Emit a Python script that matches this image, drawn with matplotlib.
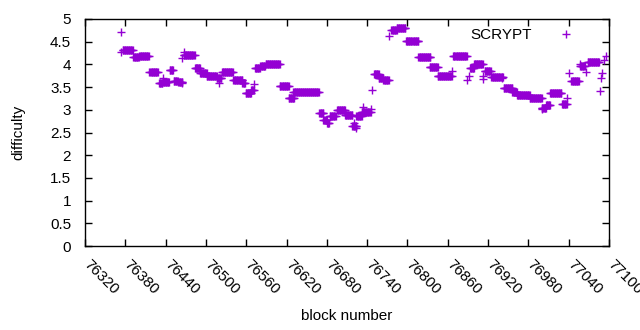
import numpy as np
import matplotlib
matplotlib.use("Agg")
import matplotlib.pyplot as plt
import matplotlib.transforms as mtransforms

plt.rcParams['font.family'] = ['Liberation Sans', 'DejaVu Sans']

# Runs of consecutive blocks sharing (about) the same difficulty
seg_start = [76376, 76392, 76401, 76416, 76430, 76436, 76446, 76452, 76459, 76467,
             76484, 76491, 76501, 76516, 76524, 76541, 76554, 76559, 76567, 76573,
             76581, 76589, 76610, 76623, 76630, 76669, 76675, 76680, 76684, 76695,
             76707, 76718, 76724, 76732, 76750, 76757, 76764, 76776, 76784, 76798,
             76816, 76833, 76845, 76868, 76893, 76899, 76915, 76925, 76943, 76956,
             76963, 76982, 77000, 77006, 77012, 77030, 77044, 77057, 77068]
seg_end = [76391, 76400, 76415, 76428, 76435, 76445, 76451, 76458, 76465, 76483,
           76491, 76501, 76516, 76523, 76540, 76554, 76558, 76567, 76571, 76580,
           76588, 76610, 76623, 76631, 76668, 76675, 76680, 76683, 76693, 76707,
           76718, 76724, 76732, 76745, 76757, 76764, 76772, 76784, 76797, 76816,
           76834, 76845, 76866, 76888, 76899, 76912, 76924, 76942, 76956, 76963,
           76982, 77000, 77006, 77012, 77029, 77037, 77055, 77064, 77085]
seg_diff = [4.32, 4.16, 4.19, 3.83, 3.58, 3.61, 3.87, 3.64, 3.62, 4.20,
            3.91, 3.81, 3.75, 3.69, 3.83, 3.65, 3.58, 3.37, 3.43, 3.92,
            3.97, 4.01, 3.52, 3.25, 3.39, 2.93, 2.78, 2.71, 2.87, 3.00,
            2.89, 2.65, 2.86, 2.96, 3.78, 3.71, 3.65, 4.75, 4.80, 4.52,
            4.16, 3.94, 3.74, 4.18, 3.93, 4.00, 3.85, 3.72, 3.47, 3.40,
            3.33, 3.27, 3.03, 3.10, 3.36, 3.12, 3.63, 3.97, 4.05]

# Isolated blocks
pt_block = [76374, 76373, 76436, 76464, 76467, 76465, 76485, 76519, 76571, 76721,
            76724, 76734, 76745, 76747, 76773, 76866, 76888, 76891, 76912, 76912,
            76940, 77001, 77037, 77040, 77057, 77066, 77086, 77088, 77090, 77092,
            77096]
pt_diff = [4.71, 4.28, 3.71, 3.59, 4.28, 4.13, 3.93, 3.60, 3.56, 2.70,
           2.59, 3.06, 3.02, 3.43, 4.62, 3.85, 3.65, 3.75, 3.67, 3.75,
           3.71, 3.02, 3.25, 3.80, 4.00, 3.84, 3.41, 3.71, 3.81, 4.09,
           4.19]

xticks = [76320, 76380, 76440, 76500, 76560, 76620, 76680, 76740, 76800,
          76860, 76920, 76980, 77040, 77100]
yticks = [0, 0.5, 1, 1.5, 2, 2.5, 3, 3.5, 4, 4.5, 5]
ytick_labels = ['0', '0.5', '1', '1.5', '2', '2.5', '3', '3.5', '4', '4.5', '5']

xs, ys = [], []
for s, e, d in zip(seg_start, seg_end, seg_diff):
    blocks = np.arange(s, e + 1)
    xs.extend(blocks)
    ys.extend([d] * len(blocks))
xs.extend(pt_block)
ys.extend(pt_diff)

fig = plt.figure(figsize=(6.4, 3.3), dpi=100)
ax = fig.add_axes([85/640, 1 - 246/330, 524/640, 227/330])
color = '#9400D3'
ax.plot(xs, ys, linestyle='none', marker='+', ms=5.2, mew=1.0, color=color,
        label='SCRYPT')

ax.set_xlim(76320, 77100)
ax.set_ylim(0, 5)
ax.set_xticks(xticks)
ax.set_xticklabels([str(t) for t in xticks], rotation=-45, ha='left', va='top',
                   rotation_mode='anchor')
ax.set_yticks(yticks)
ax.set_yticklabels(ytick_labels)
ax.tick_params(direction='in', length=5, width=1, top=True, right=True,
               labelsize=11, pad=10, colors='black')
ax.tick_params(axis='x', pad=8)
offset = mtransforms.ScaledTranslation(6/100, 0, fig.dpi_scale_trans)
for lbl in ax.get_xticklabels():
    lbl.set_transform(lbl.get_transform() + offset)
for sp in ax.spines.values():
    sp.set_linewidth(1)
ax.set_xlabel('block number', fontsize=11, labelpad=9)
ax.set_ylabel('difficulty', fontsize=11, labelpad=18)

leg = ax.legend(loc='upper right', bbox_to_anchor=(0.972, 1.0), markerfirst=False,
                frameon=False, fontsize=11, handlelength=2.5, handletextpad=1.0,
                borderaxespad=0.2, markerscale=1.0)

fig.savefig('out.png', dpi=100)
